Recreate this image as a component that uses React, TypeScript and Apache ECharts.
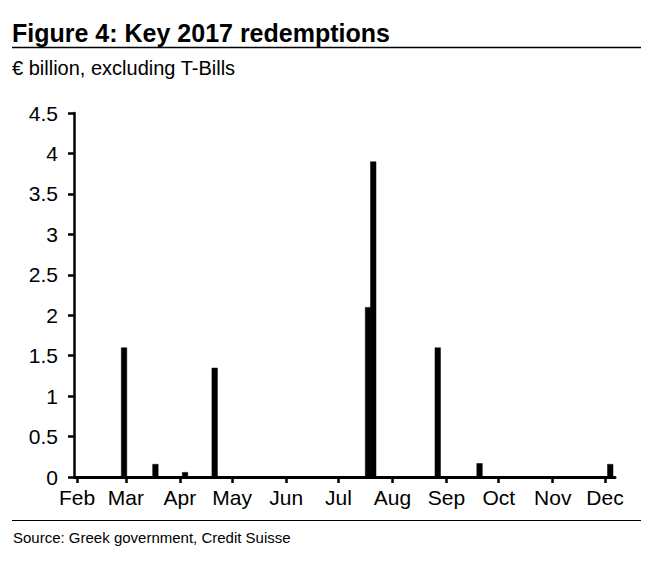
import React, { useEffect, useRef } from "react";
import * as echarts from "echarts";

const redemptionDates = [
  "2017-02-28",
  "2017-03-18",
  "2017-04-04",
  "2017-04-21",
  "2017-07-18",
  "2017-07-21",
  "2017-08-27",
  "2017-09-20",
  "2017-12-04",
];
const redemptionValues = [1.6, 0.16, 0.06, 1.35, 2.1, 3.9, 1.6, 0.17, 0.16];

const monthLabels = ["Jan", "Feb", "Mar", "Apr", "May", "Jun", "Jul", "Aug", "Sep", "Oct", "Nov", "Dec"];
const axisStart = "2017-02-01";
const axisEnd = "2017-12-05";

const titleText = "Figure 4: Key 2017 redemptions";
const subtitleText = "€ billion, excluding T-Bills";
const sourceText = "Source: Greek government, Credit Suisse";

function toTs(s: string): number {
  const [y, m, d] = s.split("-").map(Number);
  return new Date(y, m - 1, d).getTime();
}

const DAY = 86400000;

export default function App() {
  const ref = useRef<HTMLDivElement>(null);
  useEffect(() => {
    if (!ref.current) return;
    const chart = echarts.init(ref.current, null, { renderer: "svg" });
    const font = "Arial, 'Liberation Sans', sans-serif";
    chart.setOption({
      animation: false,
      backgroundColor: "#ffffff",
      grid: { left: 74, right: 43, top: 113, bottom: 87, containLabel: false },
      xAxis: {
        type: "time",
        min: toTs(axisStart),
        max: toTs(axisEnd),
        splitNumber: 10,
        minInterval: 28 * DAY,
        maxInterval: 31 * DAY,
        axisLine: { show: true, lineStyle: { color: "#000", width: 3 } },
        axisTick: {
          show: true,
          inside: false,
          length: 6,
          lineStyle: { color: "#000", width: 2.5 },
        },
        axisLabel: {
          color: "#000",
          fontFamily: font,
          fontSize: 21,
          fontWeight: "normal",
          margin: 10,
          hideOverlap: false,
          formatter: (v: number) => {
            const d = new Date(v);
            return d.getDate() === 1 ? monthLabels[d.getMonth()] : "";
          },
        },
        splitLine: { show: false },
      },
      yAxis: {
        type: "value",
        min: 0,
        max: 4.5,
        interval: 0.5,
        axisLine: { show: true, lineStyle: { color: "#000", width: 2.5 } },
        axisTick: { show: true, inside: false, length: 6, lineStyle: { color: "#000", width: 2.5 } },
        axisLabel: { color: "#000", fontFamily: font, fontSize: 21, margin: 16 },
        splitLine: { show: false },
      },
      series: [
        {
          type: "bar",
          data: redemptionDates.map((d, i) => [toTs(d), redemptionValues[i]]),
          barWidth: 6,
          itemStyle: { color: "#000", borderColor: "#000", borderWidth: 0.5 },
        },
      ],
      graphic: [
        {
          type: "text",
          left: 12,
          top: 20,
          style: { text: titleText, font: `bold 25px ${font}`, fill: "#000" },
        },
        {
          type: "line",
          shape: { x1: 12, y1: 47.5, x2: 641, y2: 47.5 },
          style: { stroke: "#000", lineWidth: 1.5 },
        },
        {
          type: "text",
          left: 12,
          top: 58,
          style: { text: subtitleText, font: `20px ${font}`, fill: "#000" },
        },
        {
          type: "line",
          shape: { x1: 12, y1: 520.5, x2: 641, y2: 520.5 },
          style: { stroke: "#000", lineWidth: 1 },
        },
        {
          type: "text",
          left: 13,
          top: 530,
          style: { text: sourceText, font: `15px ${font}`, fill: "#000" },
        },
      ],
    });
    return () => chart.dispose();
  }, []);
  return (
    <div style={{ position: "fixed", left: 0, top: 0, width: 658, height: 564, background: "#fff" }}>
      <div ref={ref} style={{ width: 658, height: 564 }} />
    </div>
  );
}
